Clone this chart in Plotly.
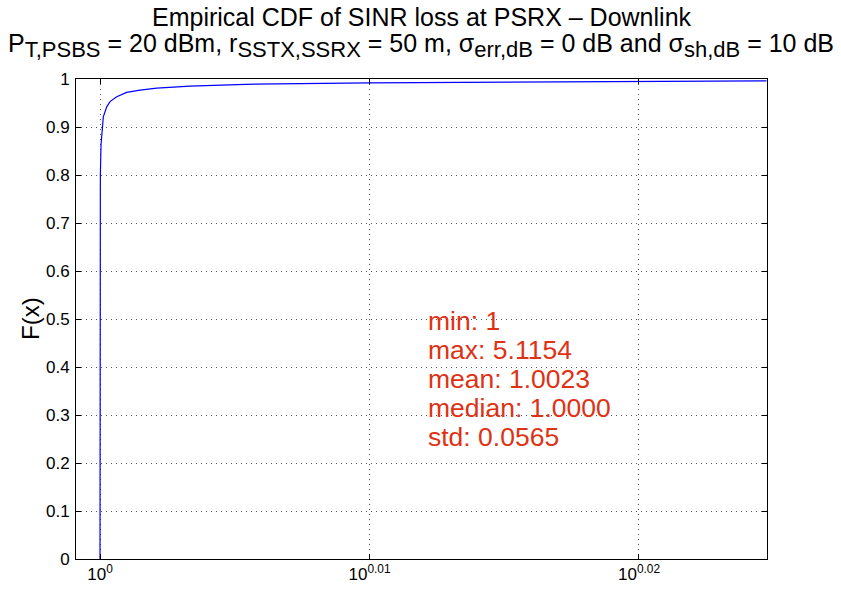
import plotly.graph_objects as go

# Empirical CDF samples
x_vals = [1.0, 1.0, 1.00001, 1.00003, 1.000085, 1.000196, 1.000282, 1.000573,
          1.000855, 1.00143, 1.00228, 1.00342, 1.00486, 1.00772, 1.0125,
          1.0233, 1.0350, 1.0471, 1.0586]
f_vals = [0.0, 0.5, 0.7, 0.8, 0.8625, 0.904, 0.921, 0.942,
          0.953, 0.963, 0.972, 0.977, 0.981, 0.985, 0.989,
          0.992, 0.9935, 0.995, 0.996]

x_tickvals = [1.0, 10 ** 0.01, 10 ** 0.02]
x_ticktext = ["10<sup>0</sup>", "10<sup>0.01</sup>", "10<sup>0.02</sup>"]
y_tickvals = [0, 0.1, 0.2, 0.3, 0.4, 0.5, 0.6, 0.7, 0.8, 0.9, 1.0]
y_ticktext = ["0", "0.1", "0.2", "0.3", "0.4", "0.5", "0.6", "0.7", "0.8", "0.9", "1"]

stats_lines = ["min: 1", "max: 5.1154", "mean: 1.0023", "median: 1.0000", "std: 0.0565"]

SUB = '<sub><span style="font-size:22px">%s</span></sub>'
title_line1 = "Empirical CDF of SINR loss at PSRX \u2013 Downlink"
title_line2 = ("P" + SUB % "T,PSBS" + " = 20 dBm, r" + SUB % "SSTX,SSRX" + " = 50 m, "
               "\u03c3" + SUB % "err,dB" + " = 0 dB and \u03c3" + SUB % "sh,dB" + " = 10 dB")

FONT = "Liberation Sans, Arial, Helvetica, sans-serif"

fig = go.Figure()
fig.add_trace(go.Scatter(x=x_vals, y=f_vals, mode="lines",
                         line=dict(color="#0000ff", width=1.2),
                         showlegend=False, hoverinfo="skip"))

W, H = 841, 592
L, R, T, B = 76, 74, 79, 33
pw, ph = W - L - R, H - T - B

axis_common = dict(showline=True, linecolor="black", linewidth=1, mirror="ticks",
                   ticks="inside", ticklen=5, tickcolor="black", automargin=False,
                   showgrid=True, gridcolor="#555555", griddash="1px,4px", gridwidth=1,
                   zeroline=False, tickfont=dict(family=FONT, size=17, color="black"))

fig.update_xaxes(type="log", range=[-0.000891, 0.02475], tickmode="array",
                 tickvals=x_tickvals, ticktext=x_ticktext, **axis_common)
fig.update_yaxes(range=[0, 1], tickmode="array", tickvals=y_tickvals,
                 ticktext=y_ticktext, ticklabelstandoff=2, **axis_common)

annotations = []
annotations.append(dict(text=title_line1, xref="paper", yref="paper",
                        x=0.5, y=1 + (T - 17) / ph, xanchor="center", yanchor="middle",
                        showarrow=False, font=dict(family=FONT, size=25, color="black")))
annotations.append(dict(text=title_line2, xref="paper", yref="paper",
                        x=0.5, xshift=-1, y=1 + (T - 45) / ph, xanchor="center", yanchor="middle",
                        showarrow=False, font=dict(family=FONT, size=25, color="black")))
annotations.append(dict(text="F(x)", xref="paper", yref="paper",
                        x=-(L - 30) / pw, y=0.5, xanchor="center", yanchor="middle",
                        textangle=-90, showarrow=False,
                        font=dict(family=FONT, size=24, color="black")))
for i, s in enumerate(stats_lines):
    yc = 321 + i * 29
    annotations.append(dict(text=s, xref="paper", yref="paper",
                            x=(426 - L) / pw, y=(H - B - yc) / ph,
                            xanchor="left", yanchor="middle", showarrow=False,
                            font=dict(family=FONT, size=26.5, color="#de3214")))

fig.update_layout(template="none", width=W, height=H, margin=dict(l=L, r=R, t=T, b=B),
                  paper_bgcolor="white", plot_bgcolor="white",
                  annotations=annotations, font=dict(family=FONT))

fig.write_html("out.html", config={"displayModeBar": False},
               post_script="document.body.style.margin='0';document.body.style.overflow='hidden';")
